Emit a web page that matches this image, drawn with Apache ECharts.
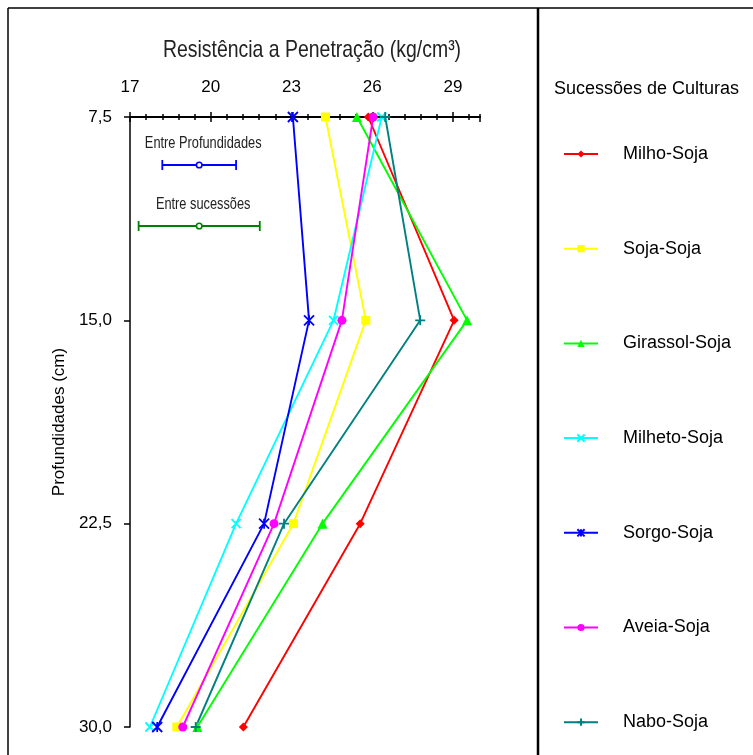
<!DOCTYPE html>
<html>
<head>
<meta charset="utf-8">
<script src="https://cdn.jsdelivr.net/npm/echarts@6/dist/echarts.min.js"></script>
<style>
  html, body { margin: 0; padding: 0; background: #fff; }
  #chart { width: 753px; height: 755px; }
</style>
</head>
<body>
<div id="chart"></div>
<script>
// profundidades (cm)
const depths = [7.5, 15, 22.5, 30];

// resistencia a penetracao por sucessao
const milhoSoja    = [25.85, 29.04, 25.55, 21.21];
const sojaSoja     = [24.26, 25.76, 23.07, 18.74];
const girassolSoja = [25.43, 29.52, 24.15, 19.50];
const milhetoSoja  = [26.35, 24.56, 20.94, 17.74];
const sorgoSoja    = [23.05, 23.65, 21.98, 18.01];
const aveiaSoja    = [26.03, 24.87, 22.35, 18.96];
const naboSoja     = [26.48, 27.78, 22.72, 19.44];

const seriesNames = ['Milho-Soja', 'Soja-Soja', 'Girassol-Soja', 'Milheto-Soja', 'Sorgo-Soja', 'Aveia-Soja', 'Nabo-Soja'];

// barras de DMS
const errorLabels = ['Entre Profundidades', 'Entre sucessões'];
const errorCenters = [19.57, 19.57];
const errorHalfWidths = [1.37, 2.25];
const errorDepths = [9.27, 11.52];

const arial = "'Liberation Sans', Arial, sans-serif";

const chart = echarts.init(document.getElementById('chart'));

function pairs(vals) {
    return vals.map((v, i) => [v, depths[i]]);
}

const styles = [
    { color: '#FF0000', symbol: 'diamond', size: 9 },
    { color: '#FFFF00', symbol: 'rect', size: 9 },
    { color: '#00FF00', symbol: 'triangle', size: 10 },
    { color: '#00FFFF', symbol: 'path://M0,0L10,10M10,0L0,10', size: 9, stroke: true },
    { color: '#0000FF', symbol: 'path://M5,0L5,10M0,0L10,10M10,0L0,10', size: 10, stroke: true },
    { color: '#FF00FF', symbol: 'circle', size: 9 },
    { color: '#008080', symbol: 'path://M5,0L5,10M0,5L10,5', size: 10, stroke: true }
];

const allValues = [milhoSoja, sojaSoja, girassolSoja, milhetoSoja, sorgoSoja, aveiaSoja, naboSoja];

const lineSeries = allValues.map((vals, i) => {
    const s = styles[i];
    return {
        name: seriesNames[i],
        type: 'line',
        xAxisIndex: 0,
        yAxisIndex: 0,
        data: pairs(vals),
        symbol: s.symbol,
        symbolSize: s.size,
        symbolKeepAspect: true,
        lineStyle: { color: s.color, width: 1.9 },
        itemStyle: s.stroke
            ? { color: s.color, borderColor: s.color, borderWidth: 1.8 }
            : { color: s.color, borderWidth: 0 },
        emphasis: { disabled: true },
        z: 3
    };
});

const errorData = errorLabels.map((l, i) => [errorCenters[i], errorHalfWidths[i], errorDepths[i]]);
const errorColors = ['#0000FF', '#008000'];

const errorSeries = {
    type: 'custom',
    xAxisIndex: 0,
    yAxisIndex: 0,
    data: errorData,
    silent: true,
    renderItem: function (params, api) {
        const c = api.value(0), h = api.value(1), d = api.value(2);
        const p0 = api.coord([c - h, d]);
        const p1 = api.coord([c + h, d]);
        const pc = api.coord([c, d]);
        const col = errorColors[params.dataIndex];
        const st = { stroke: col, lineWidth: 1.8 };
        return {
            type: 'group',
            children: [
                { type: 'line', shape: { x1: p0[0], y1: p0[1], x2: p1[0], y2: p1[1] }, style: st },
                { type: 'line', shape: { x1: p0[0], y1: p0[1] - 5, x2: p0[0], y2: p0[1] + 5 }, style: st },
                { type: 'line', shape: { x1: p1[0], y1: p1[1] - 5, x2: p1[0], y2: p1[1] + 5 }, style: st },
                { type: 'circle', shape: { cx: pc[0], cy: pc[1], r: 2.8 }, style: { fill: '#fff', stroke: col, lineWidth: 1.6 } },
                { type: 'text', x: pc[0] + 4, y: pc[1] - 21, scaleX: 0.8, style: {
                    text: errorLabels[params.dataIndex], fill: '#222', font: '16px ' + arial,
                    align: 'center', verticalAlign: 'middle' } }
            ]
        };
    }
};

function xAx(interval, inside, len, labels) {
    return {
        type: 'value',
        position: 'top',
        min: 17,
        max: 30,
        interval: interval,
        axisLine: { show: true, lineStyle: { color: '#000', width: 1.5 } },
        axisTick: { show: true, inside: inside, length: len, lineStyle: { color: '#000', width: 1.5 } },
        axisLabel: labels
            ? { show: true, margin: 21, color: '#000', fontSize: 17, fontFamily: arial, showMaxLabel: false }
            : { show: false },
        splitLine: { show: false }
    };
}

chart.setOption({
    animation: false,
    backgroundColor: '#fff',
    grid: { left: 130, right: 273, top: 117, bottom: 28 },
    xAxis: [
        xAx(3, false, 5, true),
        xAx(3, true, 5, false),
        xAx(0.6, false, 3, false),
        xAx(0.6, true, 3, false)
    ],
    yAxis: {
        type: 'value',
        inverse: true,
        min: 7.5,
        max: 30,
        interval: 7.5,
        name: 'Profundidades (cm)',
        nameLocation: 'middle',
        nameGap: 62,
        nameTextStyle: { fontFamily: arial, fontSize: 17, color: '#000' },
        axisLine: { show: true, lineStyle: { color: '#000', width: 1.5 } },
        axisTick: { show: true, length: 6, lineStyle: { color: '#000', width: 1.5 } },
        axisLabel: {
            margin: 18, color: '#000', fontSize: 17, fontFamily: arial,
            formatter: v => v.toFixed(1).replace('.', ',')
        },
        splitLine: { show: false }
    },
    legend: {
        orient: 'vertical',
        left: 558,
        top: 140,
        data: seriesNames,
        itemWidth: 34,
        itemHeight: 9,
        itemGap: 76.7,
        textStyle: { fontFamily: arial, fontSize: 18, lineHeight: 18, color: '#000', padding: [0, 0, 0, 20] },
        selectedMode: false
    },
    graphic: [
        { type: 'line', shape: { x1: 8, y1: 8, x2: 753, y2: 8 }, style: { stroke: '#000', lineWidth: 1.5 } },
        { type: 'line', shape: { x1: 8, y1: 8, x2: 8, y2: 755 }, style: { stroke: '#000', lineWidth: 1.5 } },
        { type: 'line', shape: { x1: 538, y1: 8, x2: 538, y2: 755 }, style: { stroke: '#000', lineWidth: 2.5 } },
        { type: 'text', x: 312, y: 50, scaleX: 0.81, style: {
            text: 'Resistência a Penetração (kg/cm³)', font: '24px ' + arial, fill: '#222',
            align: 'center', verticalAlign: 'middle' } },
        { type: 'text', x: 554, y: 89, style: {
            text: 'Sucessões de Culturas', font: '18px ' + arial, fill: '#000',
            align: 'left', verticalAlign: 'middle' } }
    ],
    series: lineSeries.concat([errorSeries])
});
</script>
</body>
</html>
